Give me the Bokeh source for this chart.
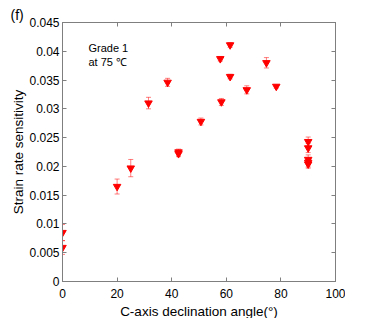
from bokeh.plotting import figure
from bokeh.models import (ColumnDataSource, Whisker, TeeHead, FixedTicker, LinearAxis,
                          Range1d, Label)
from bokeh.embed import file_html
from bokeh.resources import INLINE

# data
angle = [0, 0, 20, 25, 31.5, 38.5, 42.5, 42.5, 50.7, 57.8, 58.2, 61.4, 61.4, 67.5, 74.7, 78.3,
         90, 90, 90, 90, 90]
srs = [0.0085, 0.0059, 0.0165, 0.0197, 0.0310, 0.0346, 0.0225, 0.0222, 0.0278, 0.0387, 0.0312,
       0.0411, 0.0356, 0.0333, 0.0380, 0.0339, 0.0243, 0.0232, 0.0212, 0.0207, 0.0204]
err = [0.0014, 0.0012, 0.0013, 0.0015, 0.0010, 0.0007, 0.0005, 0.0005, 0.0006, 0.0004, 0.0006,
       0.0004, 0.0004, 0.0007, 0.0009, 0.0003, 0.0008, 0.0008, 0.0008, 0.0008, 0.0007]
x_ticks = [0, 20, 40, 60, 80, 100]
y_ticks = [0, 0.005, 0.01, 0.015, 0.02, 0.025, 0.03, 0.035, 0.04, 0.045]
y_tick_labels = ["0", "0.005", "0.01", "0.015", "0.02", "0.025", "0.03", "0.035", "0.04", "0.045"]

FONT = "Liberation Sans"
AX = "#7f7f7f"

src = ColumnDataSource(dict(x=angle, y=srs,
                            lo=[v - e for v, e in zip(srs, err)],
                            hi=[v + e for v, e in zip(srs, err)]))

p = figure(frame_width=273, frame_height=259, output_backend="svg", toolbar_location=None,
           x_range=Range1d(0, 100), y_range=Range1d(0, 0.045),
           min_border_left=62, min_border_right=10, min_border_top=22, min_border_bottom=34,
           title="(f)")
p.title.align = "left"
p.title.offset = -52
p.title.standoff = 0
p.title.text_font = FONT
p.title.text_font_size = "14px"
p.title.text_font_style = "normal"
p.title.text_color = "black"
p.grid.visible = False
p.outline_line_color = AX
p.background_fill_color = "white"
p.border_fill_color = "white"

for ax in (p.xaxis[0], p.yaxis[0]):
    ax.axis_line_color = AX
    ax.major_tick_line_color = AX
    ax.major_tick_in = 4
    ax.major_tick_out = 0
    ax.minor_tick_line_color = None
    ax.major_label_text_font = FONT
    ax.major_label_text_font_size = "12px"
    ax.major_label_text_color = "black"
    ax.axis_label_text_font = FONT
    ax.axis_label_text_font_size = "13.5px"
    ax.axis_label_text_font_style = "normal"
    ax.axis_label_text_color = "black"

p.xaxis.ticker = FixedTicker(ticks=x_ticks)
p.yaxis.ticker = FixedTicker(ticks=y_ticks)
p.yaxis.major_label_overrides = {t: l for t, l in zip(y_ticks, y_tick_labels)}
p.xaxis.axis_label = "C-axis declination angle(°)"
p.yaxis.axis_label = "Strain rate sensitivity"
p.xaxis.major_label_standoff = 7
p.yaxis.major_label_standoff = 3
p.xaxis.axis_label_standoff = 3
p.yaxis.axis_label_standoff = 0

for loc, tick in (("right", y_ticks), ("above", x_ticks)):
    a = LinearAxis(ticker=FixedTicker(ticks=tick),
                   major_label_overrides={t: "" for t in tick},
                   axis_line_color=AX, major_tick_line_color=AX, major_tick_in=4,
                   major_tick_out=0, minor_tick_line_color=None, major_label_standoff=0)
    p.add_layout(a, loc)

w = Whisker(source=src, base="x", lower="lo", upper="hi", dimension="height",
            line_color="red", line_alpha=0.5, line_width=1,
            upper_head=TeeHead(size=5, line_color="red", line_alpha=0.5),
            lower_head=TeeHead(size=5, line_color="red", line_alpha=0.5))
p.add_layout(w)
p.scatter("x", "y", source=src, marker="inverted_triangle", size=7.5,
          fill_color="red", line_color="red")

p.add_layout(Label(x=9.5, y=0.0405, text="Grade 1", text_baseline="alphabetic",
                   text_font=FONT, text_font_size="11px", text_color="black"))
p.add_layout(Label(x=9.5, y=0.0382, text="at 75 \u2103", text_baseline="alphabetic",
                   text_font=FONT, text_font_size="11px", text_color="black"))

open("out.html", "w").write(file_html(p, INLINE))
